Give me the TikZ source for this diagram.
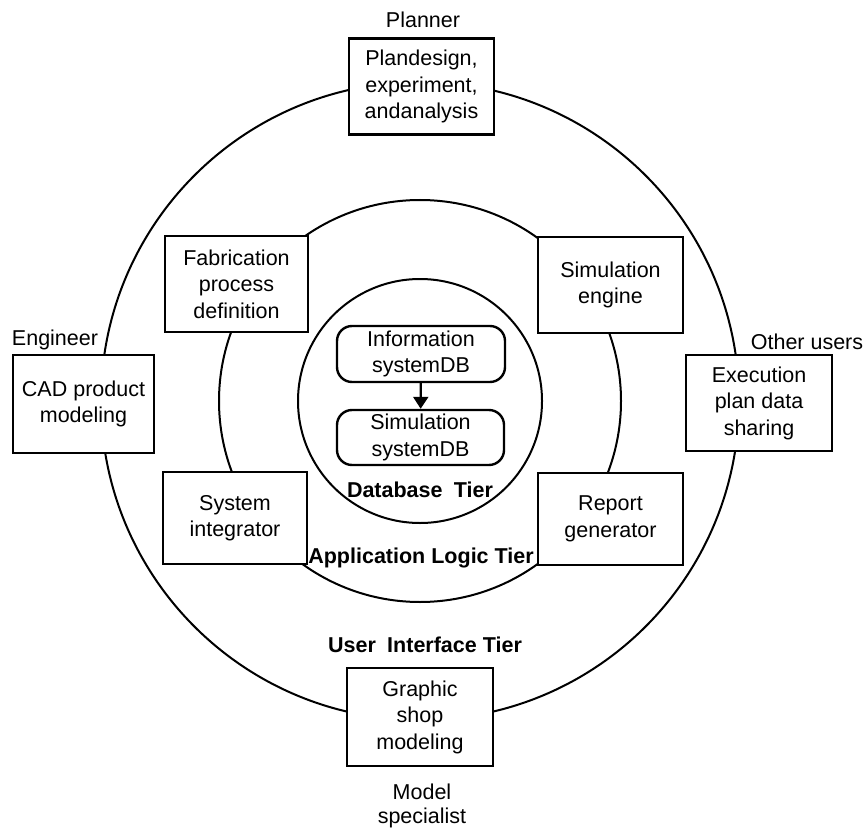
\documentclass[tikz,border=0pt]{standalone}
\usepackage{fontspec}
\setmainfont{Liberation Sans}
\usetikzlibrary{arrows.meta}
\newcommand\diagfont{\fontsize{21.5}{26.5}\selectfont}
\newcommand\tierfont{\fontsize{21.5}{26}\selectfont\bfseries}
\begin{document}
\begin{tikzpicture}[x=1pt,y=-1pt,
  ring/.style={line width=2pt},
  tierbox/.style={draw, line width=2.4pt, fill=white, inner sep=0pt,
    align=center, font=\diagfont, minimum width=145pt, minimum height=96pt},
  dbbox/.style={draw, line width=2.4pt, fill=white, inner sep=0pt,
    rounded corners=15pt, align=center, font=\diagfont,
    minimum width=167pt, minimum height=55pt},
  role/.style={inner sep=0pt, align=center, font=\diagfont},
  tier/.style={inner sep=0pt, font=\tierfont},
  flow/.style={line width=2.2pt, -{Triangle[length=12pt,width=15pt]}}
]
\useasboundingbox (0,0) rectangle (867,829);
\fill[white] (0,0) rectangle (867,829);

% the three concentric tiers
\coordinate (C) at (420,401);
\draw[ring] (C) circle[radius=319];
\draw[ring] (C) circle[radius=201];
\draw[ring] (C) circle[radius=122];

% tier captions
\node[tier] (dbtier)  at (420,490) {Database\hspace{0.25em} Tier};
\node[tier] (apptier) at (421,558) {Application Logic Tier};
\node[tier] (uitier)  at (425,645) {User\hspace{0.25em} Interface Tier};

% user interface tier
\node[tierbox] (plan) at (421.5,86.5) {Plandesign,\\experiment,\\andanalysis};
\node[tierbox, minimum width=141pt, minimum height=98pt] (cad) at (83.5,404) {CAD product\\modeling};
\node[tierbox, minimum width=146pt] (exec) at (759,403) {Execution\\plan data\\sharing};
\node[tierbox, minimum width=146pt, minimum height=98pt] (shop) at (420,717) {Graphic\\shop\\modeling};

% application logic tier
\node[tierbox, minimum width=143pt] (fab) at (236.5,284) {Fabrication\\process\\definition};
\node[tierbox] (engine) at (610.5,285) {Simulation\\engine};
\node[tierbox, minimum width=144pt, minimum height=92pt] (integ) at (235,518) {System\\integrator};
\node[tierbox, minimum height=92pt] (report) at (610.5,519) {Report\\generator};

% database tier
\node[dbbox, minimum width=168pt, minimum height=56pt] (infodb) at (421,354) {Information\\systemDB};
\node[dbbox] (simdb) at (420.5,437.5) {Simulation\\systemDB};
\draw[flow] (infodb) -- (simdb);

% user roles
\node[role] (planner)  at (423,20)  {Planner};
\node[role] (engineer) at (55,340)  {Engineer};
\node[role] (others)   at (807,342) {Other users};
\node[role, font=\fontsize{21.5}{23.5}\selectfont] (modeler) at (422,806) {Model\\specialist};
\end{tikzpicture}
\end{document}
